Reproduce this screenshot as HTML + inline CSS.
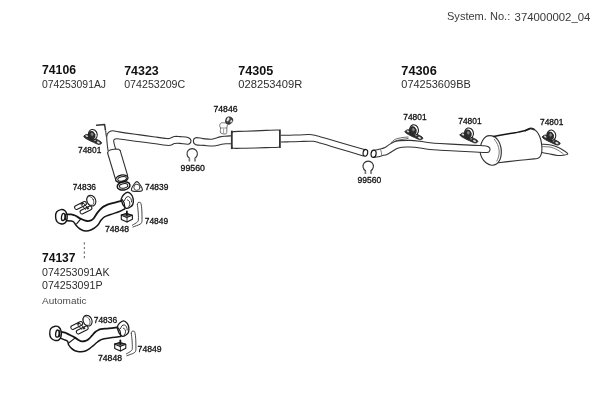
<!DOCTYPE html>
<html><head><meta charset="utf-8"><title>System. No.: 374000002_04</title>
<style>
html,body{margin:0;padding:0;background:#fff;}
body{width:600px;height:400px;overflow:hidden;font-family:"Liberation Sans",sans-serif;}
svg{display:block;position:absolute;left:0;top:0;will-change:transform;}
svg text{font-family:"Liberation Sans",sans-serif;}
</style></head><body>
<svg width="600" height="400" viewBox="0 0 600 400" stroke-linecap="round" stroke-linejoin="round">
<text x="447" y="20.1" font-size="10.6" font-weight="normal" fill="#3a3a3a" textLength="63.2" lengthAdjust="spacingAndGlyphs" >System. No.:</text>
<text x="514.6" y="20.6" font-size="10.6" font-weight="normal" fill="#3a3a3a" textLength="75.8" lengthAdjust="spacingAndGlyphs" >374000002_04</text>
<text x="42" y="74.0" font-size="12" font-weight="bold" fill="#111" textLength="34" lengthAdjust="spacingAndGlyphs" >74106</text>
<text x="42" y="88.1" font-size="10.5" font-weight="normal" fill="#2e2e2e" textLength="64" lengthAdjust="spacingAndGlyphs" >074253091AJ</text>
<text x="124.2" y="75.4" font-size="12" font-weight="bold" fill="#111" textLength="34.5" lengthAdjust="spacingAndGlyphs" >74323</text>
<text x="124.2" y="88.1" font-size="10.5" font-weight="normal" fill="#2e2e2e" textLength="61" lengthAdjust="spacingAndGlyphs" >074253209C</text>
<text x="238.3" y="75.2" font-size="12" font-weight="bold" fill="#111" textLength="35" lengthAdjust="spacingAndGlyphs" >74305</text>
<text x="238.3" y="88.1" font-size="10.5" font-weight="normal" fill="#2e2e2e" textLength="64" lengthAdjust="spacingAndGlyphs" >028253409R</text>
<text x="401.3" y="74.8" font-size="12" font-weight="bold" fill="#111" textLength="35.5" lengthAdjust="spacingAndGlyphs" >74306</text>
<text x="401.3" y="88.1" font-size="10.5" font-weight="normal" fill="#2e2e2e" textLength="69.5" lengthAdjust="spacingAndGlyphs" >074253609BB</text>
<text x="42" y="262.2" font-size="12" font-weight="bold" fill="#111" textLength="33.5" lengthAdjust="spacingAndGlyphs" >74137</text>
<text x="42" y="276.1" font-size="10.5" font-weight="normal" fill="#2e2e2e" textLength="67.5" lengthAdjust="spacingAndGlyphs" >074253091AK</text>
<text x="42" y="289.4" font-size="10.5" font-weight="normal" fill="#2e2e2e" textLength="60.5" lengthAdjust="spacingAndGlyphs" >074253091P</text>
<text x="42" y="303.6" font-size="9" font-weight="normal" fill="#4a4a4a" textLength="44.5" lengthAdjust="spacingAndGlyphs" >Automatic</text>
<text x="78" y="153.20000000000002" font-size="8.6" font-weight="normal" fill="#111" textLength="23.3" lengthAdjust="spacingAndGlyphs" stroke="#111" stroke-width="0.3">74801</text>
<text x="72.7" y="190.0" font-size="8.6" font-weight="normal" fill="#111" textLength="23.3" lengthAdjust="spacingAndGlyphs" stroke="#111" stroke-width="0.3">74836</text>
<text x="145" y="190.0" font-size="8.6" font-weight="normal" fill="#111" textLength="23.3" lengthAdjust="spacingAndGlyphs" stroke="#111" stroke-width="0.3">74839</text>
<text x="144.8" y="223.60000000000002" font-size="8.6" font-weight="normal" fill="#111" textLength="23.3" lengthAdjust="spacingAndGlyphs" stroke="#111" stroke-width="0.3">74849</text>
<text x="105" y="231.9" font-size="8.6" font-weight="normal" fill="#111" textLength="24" lengthAdjust="spacingAndGlyphs" stroke="#111" stroke-width="0.3">74848</text>
<text x="213.5" y="111.6" font-size="8.6" font-weight="normal" fill="#111" textLength="24" lengthAdjust="spacingAndGlyphs" stroke="#111" stroke-width="0.3">74846</text>
<text x="180.5" y="170.60000000000002" font-size="8.6" font-weight="normal" fill="#111" textLength="24.5" lengthAdjust="spacingAndGlyphs" stroke="#111" stroke-width="0.3">99560</text>
<text x="357.4" y="182.5" font-size="8.6" font-weight="normal" fill="#111" textLength="23.8" lengthAdjust="spacingAndGlyphs" stroke="#111" stroke-width="0.3">99560</text>
<text x="403.3" y="119.8" font-size="8.6" font-weight="normal" fill="#111" textLength="23.3" lengthAdjust="spacingAndGlyphs" stroke="#111" stroke-width="0.3">74801</text>
<text x="458.3" y="123.6" font-size="8.6" font-weight="normal" fill="#111" textLength="23.3" lengthAdjust="spacingAndGlyphs" stroke="#111" stroke-width="0.3">74801</text>
<text x="540" y="125.3" font-size="8.6" font-weight="normal" fill="#111" textLength="23.3" lengthAdjust="spacingAndGlyphs" stroke="#111" stroke-width="0.3">74801</text>
<text x="93.8" y="323.1" font-size="8.6" font-weight="normal" fill="#111" textLength="23.3" lengthAdjust="spacingAndGlyphs" stroke="#111" stroke-width="0.3">74836</text>
<text x="137.6" y="351.90000000000003" font-size="8.6" font-weight="normal" fill="#111" textLength="24" lengthAdjust="spacingAndGlyphs" stroke="#111" stroke-width="0.3">74849</text>
<text x="98" y="360.6" font-size="8.6" font-weight="normal" fill="#111" textLength="24" lengthAdjust="spacingAndGlyphs" stroke="#111" stroke-width="0.3">74848</text>
<path d="M84.4,242.3L84.4,260.6" fill="none" stroke="#777" stroke-width="1.2" stroke-dasharray="2.2 2.4" stroke-linecap="butt"/>
<g transform="translate(92.5 136.7)">
<path d="M-8.30,-0.90C-7.90,-1.42 -6.65,-2.32 -5.60,-2.30C-4.55,-2.28 -3.43,-1.52 -2.00,-0.80C-0.57,-0.08 1.28,1.03 3.00,2.00C4.72,2.97 7.32,4.20 8.30,5.00C9.28,5.80 9.28,6.35 8.90,6.80C8.52,7.25 7.32,7.90 6.00,7.70C4.68,7.50 2.67,6.35 1.00,5.60C-0.67,4.85 -2.50,4.00 -4.00,3.20C-5.50,2.40 -7.28,1.48 -8.00,0.80C-8.72,0.12 -8.70,-0.38 -8.30,-0.90Z" fill="#2e2e2e" stroke="#222" stroke-width="0.9" />
<ellipse cx="-5.8" cy="-0.7" rx="1.2" ry="0.7" fill="#ddd" stroke="#ddd" stroke-width="0.3" transform="rotate(25 -5.8 -0.7)"/>
<ellipse cx="5.8" cy="5.7" rx="1.4" ry="0.8" fill="#e8e8e8" stroke="#e8e8e8" stroke-width="0.3" transform="rotate(25 5.8 5.7)"/>
<ellipse cx="2.2" cy="3.4" rx="0.9" ry="0.6" fill="#bbb" stroke="#bbb" stroke-width="0.3" transform="rotate(25 2.2 3.4)"/>
<ellipse cx="0.4" cy="-2.1" rx="4.3" ry="5.2" fill="#fff" stroke="#222" stroke-width="1.1" transform="rotate(-15 0.4 -2.1)"/>
<ellipse cx="-0.7" cy="-1.4" rx="3.1" ry="4.0" fill="#2e2e2e" stroke="#222" stroke-width="0.8" transform="rotate(-15 -0.7 -1.4)"/>
<ellipse cx="-0.4" cy="-2.4" rx="1.0" ry="1.5" fill="#888" stroke="#888" stroke-width="0.4" transform="rotate(-15 -0.4 -2.4)"/>
</g>
<g transform="translate(413.7 132)">
<path d="M-8.30,-0.90C-7.90,-1.42 -6.65,-2.32 -5.60,-2.30C-4.55,-2.28 -3.43,-1.52 -2.00,-0.80C-0.57,-0.08 1.28,1.03 3.00,2.00C4.72,2.97 7.32,4.20 8.30,5.00C9.28,5.80 9.28,6.35 8.90,6.80C8.52,7.25 7.32,7.90 6.00,7.70C4.68,7.50 2.67,6.35 1.00,5.60C-0.67,4.85 -2.50,4.00 -4.00,3.20C-5.50,2.40 -7.28,1.48 -8.00,0.80C-8.72,0.12 -8.70,-0.38 -8.30,-0.90Z" fill="#2e2e2e" stroke="#222" stroke-width="0.9" />
<ellipse cx="-5.8" cy="-0.7" rx="1.2" ry="0.7" fill="#ddd" stroke="#ddd" stroke-width="0.3" transform="rotate(25 -5.8 -0.7)"/>
<ellipse cx="5.8" cy="5.7" rx="1.4" ry="0.8" fill="#e8e8e8" stroke="#e8e8e8" stroke-width="0.3" transform="rotate(25 5.8 5.7)"/>
<ellipse cx="2.2" cy="3.4" rx="0.9" ry="0.6" fill="#bbb" stroke="#bbb" stroke-width="0.3" transform="rotate(25 2.2 3.4)"/>
<ellipse cx="0.4" cy="-2.1" rx="4.3" ry="5.2" fill="#fff" stroke="#222" stroke-width="1.1" transform="rotate(-15 0.4 -2.1)"/>
<ellipse cx="-0.7" cy="-1.4" rx="3.1" ry="4.0" fill="#2e2e2e" stroke="#222" stroke-width="0.8" transform="rotate(-15 -0.7 -1.4)"/>
<ellipse cx="-0.4" cy="-2.4" rx="1.0" ry="1.5" fill="#888" stroke="#888" stroke-width="0.4" transform="rotate(-15 -0.4 -2.4)"/>
</g>
<g transform="translate(468.7 135.2)">
<path d="M-8.30,-0.90C-7.90,-1.42 -6.65,-2.32 -5.60,-2.30C-4.55,-2.28 -3.43,-1.52 -2.00,-0.80C-0.57,-0.08 1.28,1.03 3.00,2.00C4.72,2.97 7.32,4.20 8.30,5.00C9.28,5.80 9.28,6.35 8.90,6.80C8.52,7.25 7.32,7.90 6.00,7.70C4.68,7.50 2.67,6.35 1.00,5.60C-0.67,4.85 -2.50,4.00 -4.00,3.20C-5.50,2.40 -7.28,1.48 -8.00,0.80C-8.72,0.12 -8.70,-0.38 -8.30,-0.90Z" fill="#2e2e2e" stroke="#222" stroke-width="0.9" />
<ellipse cx="-5.8" cy="-0.7" rx="1.2" ry="0.7" fill="#ddd" stroke="#ddd" stroke-width="0.3" transform="rotate(25 -5.8 -0.7)"/>
<ellipse cx="5.8" cy="5.7" rx="1.4" ry="0.8" fill="#e8e8e8" stroke="#e8e8e8" stroke-width="0.3" transform="rotate(25 5.8 5.7)"/>
<ellipse cx="2.2" cy="3.4" rx="0.9" ry="0.6" fill="#bbb" stroke="#bbb" stroke-width="0.3" transform="rotate(25 2.2 3.4)"/>
<ellipse cx="0.4" cy="-2.1" rx="4.3" ry="5.2" fill="#fff" stroke="#222" stroke-width="1.1" transform="rotate(-15 0.4 -2.1)"/>
<ellipse cx="-0.7" cy="-1.4" rx="3.1" ry="4.0" fill="#2e2e2e" stroke="#222" stroke-width="0.8" transform="rotate(-15 -0.7 -1.4)"/>
<ellipse cx="-0.4" cy="-2.4" rx="1.0" ry="1.5" fill="#888" stroke="#888" stroke-width="0.4" transform="rotate(-15 -0.4 -2.4)"/>
</g>
<g transform="translate(551 137.3)">
<path d="M-8.30,-0.90C-7.90,-1.42 -6.65,-2.32 -5.60,-2.30C-4.55,-2.28 -3.43,-1.52 -2.00,-0.80C-0.57,-0.08 1.28,1.03 3.00,2.00C4.72,2.97 7.32,4.20 8.30,5.00C9.28,5.80 9.28,6.35 8.90,6.80C8.52,7.25 7.32,7.90 6.00,7.70C4.68,7.50 2.67,6.35 1.00,5.60C-0.67,4.85 -2.50,4.00 -4.00,3.20C-5.50,2.40 -7.28,1.48 -8.00,0.80C-8.72,0.12 -8.70,-0.38 -8.30,-0.90Z" fill="#2e2e2e" stroke="#222" stroke-width="0.9" />
<ellipse cx="-5.8" cy="-0.7" rx="1.2" ry="0.7" fill="#ddd" stroke="#ddd" stroke-width="0.3" transform="rotate(25 -5.8 -0.7)"/>
<ellipse cx="5.8" cy="5.7" rx="1.4" ry="0.8" fill="#e8e8e8" stroke="#e8e8e8" stroke-width="0.3" transform="rotate(25 5.8 5.7)"/>
<ellipse cx="2.2" cy="3.4" rx="0.9" ry="0.6" fill="#bbb" stroke="#bbb" stroke-width="0.3" transform="rotate(25 2.2 3.4)"/>
<ellipse cx="0.4" cy="-2.1" rx="4.3" ry="5.2" fill="#fff" stroke="#222" stroke-width="1.1" transform="rotate(-15 0.4 -2.1)"/>
<ellipse cx="-0.7" cy="-1.4" rx="3.1" ry="4.0" fill="#2e2e2e" stroke="#222" stroke-width="0.8" transform="rotate(-15 -0.7 -1.4)"/>
<ellipse cx="-0.4" cy="-2.4" rx="1.0" ry="1.5" fill="#888" stroke="#888" stroke-width="0.4" transform="rotate(-15 -0.4 -2.4)"/>
</g>
<path d="M96.60,125.30L104.60,124.50L105.30,129.00" fill="none" stroke="#333" stroke-width="1.5" />
<path d="M105.30,129.00L106.40,136.50" fill="none" stroke="#333" stroke-width="1.4" stroke-dasharray="1.6 0.5" stroke-linecap="butt"/>
<path d="M108.00,150.50C107.83,149.08 107.20,144.42 107.00,142.00C106.80,139.58 106.55,137.62 106.80,136.00C107.05,134.38 107.55,133.18 108.50,132.30C109.45,131.42 110.92,130.80 112.50,130.70C114.08,130.60 115.63,131.30 118.00,131.70C120.37,132.10 123.03,132.57 126.70,133.10C130.37,133.63 135.57,134.30 140.00,134.90C144.43,135.50 148.88,136.10 153.30,136.70C157.72,137.30 163.72,138.23 166.50,138.50C169.28,138.77 168.67,138.63 170.00,138.30C171.33,137.97 172.83,136.78 174.50,136.50C176.17,136.22 177.75,136.45 180.00,136.60C182.25,136.75 186.17,136.70 188.00,137.40C189.83,138.10 190.95,139.67 191.00,140.80C191.05,141.93 190.13,143.77 188.30,144.20C186.47,144.63 182.27,143.52 180.00,143.40C177.73,143.28 176.28,143.20 174.70,143.50C173.12,143.80 171.83,144.90 170.50,145.20C169.17,145.50 169.57,145.58 166.70,145.30C163.83,145.02 157.75,144.08 153.30,143.50C148.85,142.92 144.43,142.38 140.00,141.80C135.57,141.22 130.53,140.50 126.70,140.00C122.87,139.50 119.13,138.83 117.00,138.80C114.87,138.77 114.40,139.10 113.90,139.80C113.40,140.50 113.73,141.55 114.00,143.00C114.27,144.45 115.25,147.58 115.50,148.50" fill="none" stroke="#333" stroke-width="1.08" />
<path d="M107.60,153.00C107.83,152.60 107.93,151.22 109.00,150.60C110.07,149.98 112.42,149.52 114.00,149.30C115.58,149.08 117.47,149.08 118.50,149.30C119.53,149.52 119.92,150.38 120.20,150.60" fill="none" stroke="#333" stroke-width="1.08" />
<path d="M107.60,153.00L115.30,178.50" fill="none" stroke="#333" stroke-width="1.08" />
<path d="M120.20,150.60L127.60,175.50" fill="none" stroke="#333" stroke-width="1.08" />
<ellipse cx="121.8" cy="178.7" rx="6.3" ry="3.6" fill="none" stroke="#161616" stroke-width="1.3" transform="rotate(-12 121.8 178.7)"/>
<ellipse cx="122.1" cy="178.9" rx="4.4" ry="2.2" fill="none" stroke="#161616" stroke-width="1.0" transform="rotate(-12 122.1 178.9)"/>
<ellipse cx="123.6" cy="185.9" rx="6.4" ry="4.1" fill="none" stroke="#161616" stroke-width="1.5" transform="rotate(-10 123.6 185.9)"/>
<ellipse cx="123.6" cy="185.9" rx="4.2" ry="2.3" fill="none" stroke="#161616" stroke-width="1.0" transform="rotate(-10 123.6 185.9)"/>
<path d="M136.90,181.60C137.67,181.60 138.30,182.30 139.20,183.50C140.10,184.70 141.92,187.55 142.30,188.80C142.68,190.05 142.40,190.55 141.50,191.00C140.60,191.45 138.43,191.50 136.90,191.50C135.37,191.50 133.20,191.45 132.30,191.00C131.40,190.55 131.12,190.05 131.50,188.80C131.88,187.55 133.70,184.70 134.60,183.50C135.50,182.30 136.13,181.60 136.90,181.60Z" fill="none" stroke="#333" stroke-width="1.2" />
<ellipse cx="136.9" cy="187.3" rx="3.1" ry="3.1" fill="none" stroke="#444" stroke-width="1.0"/>
<path d="M67.20,214.30C67.83,214.32 69.70,214.20 71.00,214.40C72.30,214.60 73.30,214.73 75.00,215.50C76.70,216.27 79.20,218.08 81.20,219.00C83.20,219.92 85.37,220.77 87.00,221.00C88.63,221.23 89.90,220.82 91.00,220.40C92.10,219.98 92.52,219.80 93.60,218.50C94.68,217.20 96.10,214.40 97.50,212.60C98.90,210.80 100.58,208.90 102.00,207.70C103.42,206.50 104.55,206.07 106.00,205.40C107.45,204.73 108.45,204.37 110.70,203.70C112.95,203.03 117.70,201.92 119.50,201.40C121.30,200.88 121.17,200.73 121.50,200.60" fill="none" stroke="#161616" stroke-width="1.8" />
<path d="M66.60,220.80C67.33,220.83 69.82,220.80 71.00,221.00C72.18,221.20 72.83,221.23 73.70,222.00C74.57,222.77 75.15,224.43 76.20,225.60C77.25,226.77 78.48,228.08 80.00,229.00C81.52,229.92 83.40,230.97 85.30,231.10C87.20,231.23 89.37,230.73 91.40,229.80C93.43,228.87 95.90,227.08 97.50,225.50C99.10,223.92 99.83,221.75 101.00,220.30C102.17,218.85 102.88,217.77 104.50,216.80C106.12,215.83 108.20,215.38 110.70,214.50C113.20,213.62 117.20,212.42 119.50,211.50C121.80,210.58 123.67,209.42 124.50,209.00" fill="none" stroke="#161616" stroke-width="1.5" />
<path d="M80.80,218.80L76.60,223.90" fill="none" stroke="#161616" stroke-width="1.1" />
<g transform="translate(0 0)">
<path d="M61.00,209.60C62.40,209.40 64.00,209.93 65.00,210.80C66.00,211.67 66.68,213.30 67.00,214.80C67.32,216.30 67.27,218.40 66.90,219.80C66.53,221.20 65.85,222.53 64.80,223.20C63.75,223.87 61.90,224.07 60.60,223.80C59.30,223.53 57.83,222.73 57.00,221.60C56.17,220.47 55.67,218.60 55.60,217.00C55.53,215.40 55.70,213.23 56.60,212.00C57.50,210.77 59.60,209.80 61.00,209.60Z" fill="none" stroke="#161616" stroke-width="1.4" />
<ellipse cx="63.3" cy="217" rx="1.8" ry="3.6" fill="none" stroke="#161616" stroke-width="1.3" transform="rotate(8 63.3 217)"/>
<path d="M65.20,214.50L65.60,219.50" fill="none" stroke="#161616" stroke-width="1.6" />
</g>
<g transform="translate(0 0) translate(127.3 200.3) scale(0.97) translate(-127.3 -200.3)">
<path d="M121.00,199.00C121.28,197.75 122.37,195.67 123.50,194.50C124.63,193.33 126.47,192.00 127.80,192.00C129.13,192.00 130.57,193.33 131.50,194.50C132.43,195.67 133.15,197.33 133.40,199.00C133.65,200.67 133.57,203.08 133.00,204.50C132.43,205.92 131.12,206.82 130.00,207.50C128.88,208.18 127.43,208.93 126.30,208.60C125.17,208.27 123.95,206.60 123.20,205.50C122.45,204.40 122.17,203.08 121.80,202.00C121.43,200.92 120.72,200.25 121.00,199.00Z" fill="#fff" stroke="#161616" stroke-width="1.4" />
<path d="M124.50,200.50C124.75,200.00 125.32,198.17 126.00,197.50C126.68,196.83 127.77,196.33 128.60,196.50C129.43,196.67 130.48,197.58 131.00,198.50C131.52,199.42 131.58,201.42 131.70,202.00" fill="none" stroke="#161616" stroke-width="0.9" />
<path d="M127.50,200.00C127.83,200.25 129.12,200.67 129.50,201.50C129.88,202.33 130.00,204.03 129.80,205.00C129.60,205.97 128.55,206.92 128.30,207.30" fill="none" stroke="#161616" stroke-width="0.9" />
<path d="M122.00,199.50C122.33,200.08 123.50,201.42 124.00,203.00C124.50,204.58 124.83,208.00 125.00,209.00" fill="none" stroke="#161616" stroke-width="1.2" />
</g>
<g transform="translate(0 0)">
<ellipse cx="91.3" cy="200.6" rx="4.3" ry="5.6" fill="none" stroke="#161616" stroke-width="1.0" transform="rotate(-25 91.3 200.6)"/>
<ellipse cx="90.3" cy="201" rx="3.3" ry="4.7" fill="none" stroke="#333" stroke-width="0.7" transform="rotate(-25 90.3 201)"/>
<rect x="-1.90" y="-1.90" width="12.74" height="3.80" rx="1.90" fill="#fff" stroke="#1a1a1a" stroke-width="1.0" transform="translate(76.50 207.50) rotate(-26.57)"/>
<rect x="-1.90" y="-1.90" width="12.74" height="3.80" rx="1.90" fill="#fff" stroke="#1a1a1a" stroke-width="1.0" transform="translate(82.00 212.00) rotate(-26.57)"/>
<path d="M81.00,204.50L85.50,209.50" fill="none" stroke="#161616" stroke-width="0.9" />
<path d="M83.50,203.20L88.00,208.30" fill="none" stroke="#161616" stroke-width="0.9" />
<ellipse cx="82.2" cy="203.6" rx="0.9" ry="0.9" fill="#333" stroke="#1a1a1a" stroke-width="0.6"/>
<ellipse cx="87.6" cy="208.2" rx="0.9" ry="0.9" fill="#333" stroke="#1a1a1a" stroke-width="0.6"/>
</g>
<g transform="translate(0 0)">
<path d="M121.30,215.00L126.50,213.60L132.40,215.30L132.40,219.30L127.00,222.00L121.30,219.60Z" fill="none" stroke="#161616" stroke-width="1.1" />
<path d="M121.30,215.00L126.50,213.60L132.40,215.30L127.00,217.40Z" fill="#666" stroke="#161616" stroke-width="1.0" />
<path d="M127.00,217.40L127.00,222.00" fill="none" stroke="#161616" stroke-width="0.9" />
<path d="M126.90,211.40L126.90,215.00" fill="none" stroke="#161616" stroke-width="1.8" />
</g>
<g transform="translate(0 0)">
<path d="M137.40,204.50C137.50,204.18 137.60,202.95 138.00,202.60C138.40,202.25 139.30,202.23 139.80,202.40C140.30,202.57 140.67,202.33 141.00,203.60C141.33,204.87 141.63,207.60 141.80,210.00C141.97,212.40 142.00,216.00 142.00,218.00C142.00,220.00 142.13,220.97 141.80,222.00C141.47,223.03 141.47,223.37 140.00,224.20C138.53,225.03 134.17,226.53 133.00,227.00" fill="none" stroke="#333" stroke-width="0.9" />
<path d="M137.40,204.50C137.53,205.75 138.03,209.58 138.20,212.00C138.37,214.42 138.50,217.37 138.40,219.00C138.30,220.63 138.60,220.77 137.60,221.80C136.60,222.83 133.27,224.63 132.40,225.20" fill="none" stroke="#333" stroke-width="0.9" />
</g>
<path d="M61.60,332.00C62.17,332.10 63.82,332.20 65.00,332.60C66.18,333.00 67.03,333.57 68.70,334.40C70.37,335.23 73.28,336.62 75.00,337.60C76.72,338.58 77.88,339.67 79.00,340.30C80.12,340.93 80.62,341.30 81.70,341.40C82.78,341.50 84.37,341.27 85.50,340.90C86.63,340.53 87.42,340.08 88.50,339.20C89.58,338.32 90.88,336.80 92.00,335.60C93.12,334.40 94.20,332.90 95.20,332.00C96.20,331.10 97.05,330.67 98.00,330.20C98.95,329.73 99.12,329.50 100.90,329.20C102.68,328.90 106.02,328.70 108.70,328.40C111.38,328.10 115.62,327.57 117.00,327.40" fill="none" stroke="#161616" stroke-width="1.8" />
<path d="M60.50,338.20C61.08,338.43 62.83,339.10 64.00,339.60C65.17,340.10 66.72,340.30 67.50,341.20C68.28,342.10 68.03,343.80 68.70,345.00C69.37,346.20 70.45,347.43 71.50,348.40C72.55,349.37 73.75,350.25 75.00,350.80C76.25,351.35 77.68,351.57 79.00,351.70C80.32,351.83 81.65,351.80 82.90,351.60C84.15,351.40 85.38,350.98 86.50,350.50C87.62,350.02 88.43,349.55 89.60,348.70C90.77,347.85 92.18,346.52 93.50,345.40C94.82,344.28 96.33,342.90 97.50,342.00C98.67,341.10 99.38,340.55 100.50,340.00C101.62,339.45 102.27,339.10 104.20,338.70C106.13,338.30 109.38,337.98 112.10,337.60C114.82,337.22 119.10,336.60 120.50,336.40" fill="none" stroke="#161616" stroke-width="1.5" />
<path d="M74.60,338.40L68.70,343.00" fill="none" stroke="#161616" stroke-width="1.1" />
<g transform="translate(-5.85 116.6)">
<path d="M61.00,209.60C62.40,209.40 64.00,209.93 65.00,210.80C66.00,211.67 66.68,213.30 67.00,214.80C67.32,216.30 67.27,218.40 66.90,219.80C66.53,221.20 65.85,222.53 64.80,223.20C63.75,223.87 61.90,224.07 60.60,223.80C59.30,223.53 57.83,222.73 57.00,221.60C56.17,220.47 55.67,218.60 55.60,217.00C55.53,215.40 55.70,213.23 56.60,212.00C57.50,210.77 59.60,209.80 61.00,209.60Z" fill="none" stroke="#161616" stroke-width="1.4" />
<ellipse cx="63.3" cy="217" rx="1.8" ry="3.6" fill="none" stroke="#161616" stroke-width="1.3" transform="rotate(8 63.3 217)"/>
<path d="M65.20,214.50L65.60,219.50" fill="none" stroke="#161616" stroke-width="1.6" />
</g>
<g transform="translate(-4.2 128.2) translate(127.3 200.3) scale(0.93) translate(-127.3 -200.3)">
<path d="M121.00,199.00C121.28,197.75 122.37,195.67 123.50,194.50C124.63,193.33 126.47,192.00 127.80,192.00C129.13,192.00 130.57,193.33 131.50,194.50C132.43,195.67 133.15,197.33 133.40,199.00C133.65,200.67 133.57,203.08 133.00,204.50C132.43,205.92 131.12,206.82 130.00,207.50C128.88,208.18 127.43,208.93 126.30,208.60C125.17,208.27 123.95,206.60 123.20,205.50C122.45,204.40 122.17,203.08 121.80,202.00C121.43,200.92 120.72,200.25 121.00,199.00Z" fill="#fff" stroke="#161616" stroke-width="1.4" />
<path d="M124.50,200.50C124.75,200.00 125.32,198.17 126.00,197.50C126.68,196.83 127.77,196.33 128.60,196.50C129.43,196.67 130.48,197.58 131.00,198.50C131.52,199.42 131.58,201.42 131.70,202.00" fill="none" stroke="#161616" stroke-width="0.9" />
<path d="M127.50,200.00C127.83,200.25 129.12,200.67 129.50,201.50C129.88,202.33 130.00,204.03 129.80,205.00C129.60,205.97 128.55,206.92 128.30,207.30" fill="none" stroke="#161616" stroke-width="0.9" />
<path d="M122.00,199.50C122.33,200.08 123.50,201.42 124.00,203.00C124.50,204.58 124.83,208.00 125.00,209.00" fill="none" stroke="#161616" stroke-width="1.2" />
</g>
<g transform="translate(-3.75 120)">
<ellipse cx="91.3" cy="200.6" rx="4.3" ry="5.6" fill="none" stroke="#161616" stroke-width="1.0" transform="rotate(-25 91.3 200.6)"/>
<ellipse cx="90.3" cy="201" rx="3.3" ry="4.7" fill="none" stroke="#333" stroke-width="0.7" transform="rotate(-25 90.3 201)"/>
<rect x="-1.90" y="-1.90" width="12.74" height="3.80" rx="1.90" fill="#fff" stroke="#1a1a1a" stroke-width="1.0" transform="translate(76.50 207.50) rotate(-26.57)"/>
<rect x="-1.90" y="-1.90" width="12.74" height="3.80" rx="1.90" fill="#fff" stroke="#1a1a1a" stroke-width="1.0" transform="translate(82.00 212.00) rotate(-26.57)"/>
<path d="M81.00,204.50L85.50,209.50" fill="none" stroke="#161616" stroke-width="0.9" />
<path d="M83.50,203.20L88.00,208.30" fill="none" stroke="#161616" stroke-width="0.9" />
<ellipse cx="82.2" cy="203.6" rx="0.9" ry="0.9" fill="#333" stroke="#1a1a1a" stroke-width="0.6"/>
<ellipse cx="87.6" cy="208.2" rx="0.9" ry="0.9" fill="#333" stroke="#1a1a1a" stroke-width="0.6"/>
</g>
<g transform="translate(-6.6 129)">
<path d="M121.30,215.00L126.50,213.60L132.40,215.30L132.40,219.30L127.00,222.00L121.30,219.60Z" fill="none" stroke="#161616" stroke-width="1.1" />
<path d="M121.30,215.00L126.50,213.60L132.40,215.30L127.00,217.40Z" fill="#666" stroke="#161616" stroke-width="1.0" />
<path d="M127.00,217.40L127.00,222.00" fill="none" stroke="#161616" stroke-width="0.9" />
<path d="M126.90,211.40L126.90,215.00" fill="none" stroke="#161616" stroke-width="1.8" />
</g>
<g transform="translate(-6.1 128.8)">
<path d="M137.40,204.50C137.50,204.18 137.60,202.95 138.00,202.60C138.40,202.25 139.30,202.23 139.80,202.40C140.30,202.57 140.67,202.33 141.00,203.60C141.33,204.87 141.63,207.60 141.80,210.00C141.97,212.40 142.00,216.00 142.00,218.00C142.00,220.00 142.13,220.97 141.80,222.00C141.47,223.03 141.47,223.37 140.00,224.20C138.53,225.03 134.17,226.53 133.00,227.00" fill="none" stroke="#333" stroke-width="0.9" />
<path d="M137.40,204.50C137.53,205.75 138.03,209.58 138.20,212.00C138.37,214.42 138.50,217.37 138.40,219.00C138.30,220.63 138.60,220.77 137.60,221.80C136.60,222.83 133.27,224.63 132.40,225.20" fill="none" stroke="#333" stroke-width="0.9" />
</g>
<path d="M189.50,158.25 A5.2,5.2 0 1 1 194.90,158.25" fill="none" stroke="#333" stroke-width="1.1" />
<path d="M189.40,158.60L189.40,161.50" fill="none" stroke="#777" stroke-width="1.7" stroke-linecap="butt"/>
<path d="M195.00,158.60L195.00,161.50" fill="none" stroke="#777" stroke-width="1.7" stroke-linecap="butt"/>
<path d="M365.50,170.75 A5.2,5.2 0 1 1 370.90,170.75" fill="none" stroke="#333" stroke-width="1.1" />
<path d="M365.40,171.10L365.40,174.00" fill="none" stroke="#777" stroke-width="1.7" stroke-linecap="butt"/>
<path d="M371.00,171.10L371.00,174.00" fill="none" stroke="#777" stroke-width="1.7" stroke-linecap="butt"/>
<path d="M231.50,135.80C230.42,135.87 226.92,136.02 225.00,136.20C223.08,136.38 222.22,136.40 220.00,136.90C217.78,137.40 214.53,138.92 211.70,139.20C208.87,139.48 205.65,138.85 203.00,138.60C200.35,138.35 197.40,137.30 195.80,137.70C194.20,138.10 193.40,139.82 193.40,141.00C193.40,142.18 194.03,144.07 195.80,144.80C197.57,145.53 201.08,145.20 204.00,145.40C206.92,145.60 210.35,146.18 213.30,146.00C216.25,145.82 219.58,144.67 221.70,144.30C223.82,143.93 224.37,143.90 226.00,143.80C227.63,143.70 230.58,143.72 231.50,143.70" fill="none" stroke="#333" stroke-width="1.08" />
<path d="M226.60,118.00C227.13,117.35 227.97,116.95 228.80,116.90C229.63,116.85 230.93,117.18 231.60,117.70C232.27,118.22 232.77,119.18 232.80,120.00C232.83,120.82 232.43,121.90 231.80,122.60C231.17,123.30 229.92,124.07 229.00,124.20C228.08,124.33 226.87,123.97 226.30,123.40C225.73,122.83 225.55,121.70 225.60,120.80C225.65,119.90 226.07,118.65 226.60,118.00Z" fill="#444" stroke="#222" stroke-width="0.9" />
<ellipse cx="228.0" cy="119.4" rx="0.9" ry="1.9" fill="#eee" stroke="#eee" stroke-width="0.4" transform="rotate(25 228.0 119.4)"/>
<ellipse cx="231.2" cy="121.2" rx="0.7" ry="1.2" fill="#ddd" stroke="#ddd" stroke-width="0.4" transform="rotate(25 231.2 121.2)"/>
<path d="M225.50,123.00C224.83,122.97 222.48,122.43 221.50,122.80C220.52,123.17 219.77,124.33 219.60,125.20C219.43,126.07 220.30,126.70 220.50,128.00C220.70,129.30 219.83,132.07 220.80,133.00C221.77,133.93 225.30,134.43 226.30,133.60C227.30,132.77 226.62,129.43 226.80,128.00C226.98,126.57 227.30,125.50 227.40,125.00" fill="none" stroke="#555" stroke-width="0.8" />
<path d="M220.50,128.00L226.80,128.00" fill="none" stroke="#666" stroke-width="0.7" />
<path d="M223.60,129.00L223.60,133.00" fill="none" stroke="#777" stroke-width="0.7" />
<path d="M231.80,130.60L231.80,149.10" fill="none" stroke="#333" stroke-width="1.8" stroke-linecap="butt"/>
<path d="M279.90,129.40L279.90,148.00" fill="none" stroke="#333" stroke-width="1.8" stroke-linecap="butt"/>
<path d="M232.00,133.00C232.25,132.77 231.33,131.88 233.50,131.60C235.67,131.32 239.58,131.50 245.00,131.30C250.42,131.10 260.50,130.62 266.00,130.40C271.50,130.18 275.75,129.90 278.00,130.00C280.25,130.10 279.25,130.83 279.50,131.00" fill="none" stroke="#333" stroke-width="1.08" />
<path d="M232.00,147.00C232.25,147.22 231.33,148.10 233.50,148.30C235.67,148.50 239.58,148.32 245.00,148.20C250.42,148.08 260.50,147.77 266.00,147.60C271.50,147.43 275.75,147.47 278.00,147.20C280.25,146.93 279.25,146.20 279.50,146.00" fill="none" stroke="#333" stroke-width="1.08" />
<path d="M281.00,135.30C282.50,135.28 286.83,135.27 290.00,135.20C293.17,135.13 297.00,135.00 300.00,134.90C303.00,134.80 306.00,134.63 308.00,134.60C310.00,134.57 310.83,134.58 312.00,134.70C313.17,134.82 313.67,134.97 315.00,135.30C316.33,135.63 317.50,135.98 320.00,136.70C322.50,137.42 326.67,138.63 330.00,139.60C333.33,140.57 336.33,141.43 340.00,142.50C343.67,143.57 347.78,144.80 352.00,146.00C356.22,147.20 363.08,149.08 365.30,149.70" fill="none" stroke="#333" stroke-width="1.05" />
<path d="M281.00,142.10C282.50,142.05 286.83,141.90 290.00,141.80C293.17,141.70 296.83,141.60 300.00,141.50C303.17,141.40 306.75,141.23 309.00,141.20C311.25,141.17 312.25,141.18 313.50,141.30C314.75,141.42 315.42,141.63 316.50,141.90C317.58,142.17 317.75,142.23 320.00,142.90C322.25,143.57 326.67,144.88 330.00,145.90C333.33,146.92 336.33,147.88 340.00,149.00C343.67,150.12 348.10,151.43 352.00,152.60C355.90,153.77 361.50,155.43 363.40,156.00" fill="none" stroke="#333" stroke-width="1.05" />
<ellipse cx="365.4" cy="152.8" rx="2.3" ry="3.4" fill="none" stroke="#161616" stroke-width="1.1" transform="rotate(10 365.4 152.8)"/>
<path d="M391.00,143.00C391.33,142.63 392.25,141.42 393.00,140.80C393.75,140.18 394.50,139.73 395.50,139.30C396.50,138.87 397.75,138.50 399.00,138.20C400.25,137.90 401.50,137.70 403.00,137.50C404.50,137.30 407.17,137.08 408.00,137.00" fill="none" stroke="#444" stroke-width="0.8" />
<path d="M394.00,141.80C394.50,141.58 395.83,140.87 397.00,140.50C398.17,140.13 399.67,139.85 401.00,139.60C402.33,139.35 403.80,139.20 405.00,139.00C406.20,138.80 407.67,138.50 408.20,138.40" fill="none" stroke="#444" stroke-width="0.8" />
<path d="M489.50,135.60C490.95,135.60 493.00,135.90 494.50,136.80C496.00,137.70 497.45,139.30 498.50,141.00C499.55,142.70 500.33,145.00 500.80,147.00C501.27,149.00 501.43,150.92 501.30,153.00C501.17,155.08 500.80,157.67 500.00,159.50C499.20,161.33 497.92,163.05 496.50,164.00C495.08,164.95 493.25,165.40 491.50,165.20C489.75,165.00 487.58,164.00 486.00,162.80C484.42,161.60 482.97,159.72 482.00,158.00C481.03,156.28 480.43,154.50 480.20,152.50C479.97,150.50 480.20,148.00 480.60,146.00C481.00,144.00 481.73,142.03 482.60,140.50C483.47,138.97 484.65,137.62 485.80,136.80C486.95,135.98 488.05,135.60 489.50,135.60Z" fill="none" stroke="#333" stroke-width="1.15" />
<path d="M494.30,139.30C494.85,140.17 496.78,142.55 497.60,144.50C498.42,146.45 499.05,148.92 499.20,151.00C499.35,153.08 498.90,155.33 498.50,157.00C498.10,158.67 497.08,160.33 496.80,161.00" fill="none" stroke="#555" stroke-width="0.8" />
<path d="M493.50,136.40C494.58,136.22 497.47,135.73 500.00,135.30C502.53,134.87 506.20,134.22 508.70,133.80C511.20,133.38 513.12,133.15 515.00,132.80C516.88,132.45 518.23,132.08 520.00,131.70C521.77,131.32 524.67,130.70 525.60,130.50" fill="none" stroke="#161616" stroke-width="1.5" />
<path d="M525.60,130.50C526.08,130.28 527.60,129.55 528.50,129.20C529.40,128.85 530.08,128.37 531.00,128.40C531.92,128.43 533.50,129.23 534.00,129.40" fill="none" stroke="#161616" stroke-width="1.8" />
<path d="M531.00,128.40C531.67,128.67 533.83,129.18 535.00,130.00C536.17,130.82 537.07,131.80 538.00,133.30C538.93,134.80 539.97,136.88 540.60,139.00C541.23,141.12 541.62,143.83 541.80,146.00C541.98,148.17 541.92,150.33 541.70,152.00C541.48,153.67 541.12,154.95 540.50,156.00C539.88,157.05 539.08,157.82 538.00,158.30C536.92,158.78 537.00,158.57 534.00,158.90C531.00,159.23 524.33,159.85 520.00,160.30C515.67,160.75 511.58,161.20 508.00,161.60C504.42,162.00 500.08,162.52 498.50,162.70" fill="none" stroke="#333" stroke-width="1.1" />
<path d="M541.60,144.30C542.50,144.32 545.27,144.23 547.00,144.40C548.73,144.57 550.50,144.93 552.00,145.30C553.50,145.67 554.67,146.10 556.00,146.60C557.33,147.10 558.67,147.62 560.00,148.30C561.33,148.98 562.70,149.78 564.00,150.70C565.30,151.62 567.97,153.05 567.80,153.80C567.63,154.55 564.68,154.93 563.00,155.20C561.32,155.47 560.08,155.63 557.70,155.40C555.32,155.17 551.38,154.27 548.70,153.80C546.02,153.33 542.78,152.80 541.60,152.60" fill="none" stroke="#333" stroke-width="1.05" />
<path d="M542.50,146.60C543.92,146.70 548.47,146.63 551.00,147.20C553.53,147.77 555.70,148.93 557.70,150.00C559.70,151.07 562.12,153.00 563.00,153.60" fill="none" stroke="#555" stroke-width="0.8" />
<path d="M373.80,150.20C374.33,150.13 375.97,150.00 377.00,149.80C378.03,149.60 378.67,149.40 380.00,149.00C381.33,148.60 383.33,148.22 385.00,147.40C386.67,146.58 388.33,145.07 390.00,144.10C391.67,143.13 393.33,142.18 395.00,141.60C396.67,141.02 397.50,140.80 400.00,140.60C402.50,140.40 406.67,140.28 410.00,140.40C413.33,140.52 416.67,140.92 420.00,141.30C423.33,141.68 426.67,142.33 430.00,142.70C433.33,143.07 435.00,143.18 440.00,143.50C445.00,143.82 454.17,144.28 460.00,144.60C465.83,144.92 470.67,145.17 475.00,145.40C479.33,145.63 483.62,145.65 486.00,146.00C488.38,146.35 488.63,146.92 489.30,147.50C489.97,148.08 490.00,148.87 490.00,149.50C490.00,150.13 489.80,150.80 489.30,151.30C488.80,151.80 489.38,152.38 487.00,152.50C484.62,152.62 479.50,152.22 475.00,152.00C470.50,151.78 465.83,151.50 460.00,151.20C454.17,150.90 445.00,150.48 440.00,150.20C435.00,149.92 433.33,149.87 430.00,149.50C426.67,149.13 423.33,148.42 420.00,148.00C416.67,147.58 413.00,147.13 410.00,147.00C407.00,146.87 404.17,146.93 402.00,147.20C399.83,147.47 398.67,147.88 397.00,148.60C395.33,149.32 393.67,150.53 392.00,151.50C390.33,152.47 388.67,153.70 387.00,154.40C385.33,155.10 383.50,155.30 382.00,155.70C380.50,156.10 379.33,156.52 378.00,156.80C376.67,157.08 374.67,157.30 374.00,157.40" fill="#fff" stroke="#333" stroke-width="1.08" />
<ellipse cx="373.6" cy="153.8" rx="2.5" ry="3.6" fill="none" stroke="#161616" stroke-width="1.2" transform="rotate(8 373.6 153.8)"/>
<path d="M380.60,149.60C380.73,150.08 381.20,151.53 381.40,152.50C381.60,153.47 381.73,154.92 381.80,155.40" fill="none" stroke="#555" stroke-width="0.8" />
</svg>
</body></html>
